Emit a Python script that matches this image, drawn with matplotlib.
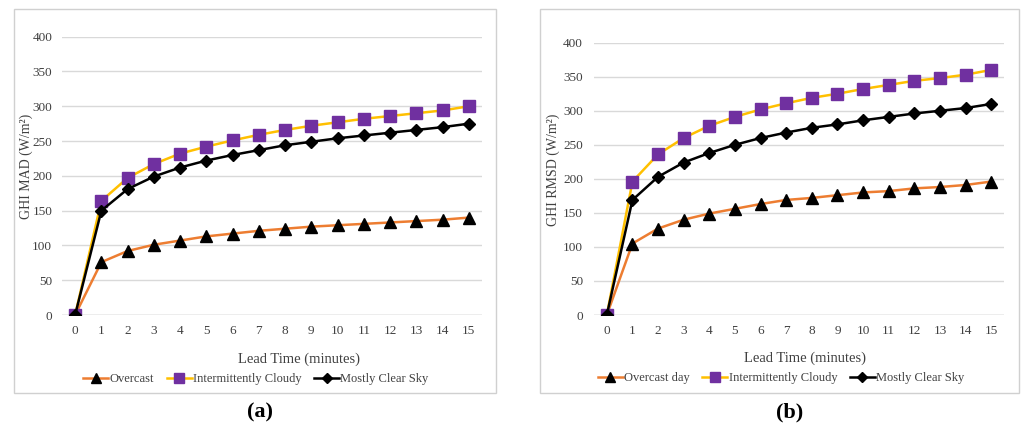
import matplotlib
matplotlib.use("Agg")
import matplotlib.pyplot as plt
from matplotlib.patches import Rectangle
from matplotlib.lines import Line2D

lead_time = list(range(16))
x_ticks = [str(v) for v in lead_time]
y_ticks = [0, 50, 100, 150, 200, 250, 300, 350, 400]

mad_overcast = [0, 76, 92, 101, 107, 113, 117, 121, 124, 127, 129, 131, 133, 135, 137, 140]
mad_intermittent = [0, 164, 197, 217, 232, 242, 251, 259, 266, 272, 277, 282, 286, 290, 294, 300]
mad_clear = [0, 150, 181, 199, 212, 222, 230, 237, 244, 249, 254, 258, 262, 266, 270, 275]

rmsd_overcast = [0, 105, 127, 140, 149, 156, 163, 169, 172, 176, 180, 182, 186, 188, 191, 196]
rmsd_intermittent = [0, 196, 236, 260, 278, 291, 302, 311, 319, 325, 332, 338, 344, 348, 353, 360]
rmsd_clear = [0, 169, 203, 224, 238, 250, 260, 268, 275, 280, 286, 291, 296, 300, 304, 310]

labels_a = ["Overcast", "Intermittently Cloudy", "Mostly Clear Sky"]
labels_b = ["Overcast day", "Intermittently Cloudy", "Mostly Clear Sky"]

SERIF = ["Liberation Serif", "DejaVu Serif"]
plt.rcParams["font.family"] = SERIF

W, H = 1024, 430
fig = plt.figure(figsize=(W / 100, H / 100), dpi=100)

ORANGE = "#ED7D31"
YELLOW = "#FFC000"
PURPLE = "#7030A0"
GRID = "#D9D9D9"


def fx(px):
    return px / W


def fy(py):
    return 1 - py / H


# frames
for (x0, y0, x1, y1) in [(14, 9, 496, 393), (540, 9, 1019, 393)]:
    fig.patches.append(Rectangle((fx(x0), fy(y1)), fx(x1) - fx(x0), fy(y0) - fy(y1),
                                 transform=fig.transFigure, fill=False,
                                 edgecolor="#D0D0D0", linewidth=1.0))


def panel(rect, over, inter, clear, ylabel, ylabel_px, ypad, labels, leg_center,
          xlabel_pos, letter, letter_x):
    x0, x1, ytop, ybot = rect
    ax = fig.add_axes([fx(x0), fy(ybot), fx(x1) - fx(x0), fy(ytop) - fy(ybot)])
    ax.set_xlim(-0.5, 15.5)
    ax.set_ylim(0, 400)
    for s in ax.spines.values():
        s.set_visible(False)
    ax.set_yticks(y_ticks)
    ax.set_xticks(lead_time)
    ax.set_xticklabels(x_ticks)
    ax.tick_params(length=0, labelsize=9.5, colors="#404040")
    ax.tick_params(axis="y", pad=ypad)
    ax.tick_params(axis="x", pad=7)
    ax.grid(axis="y", color=GRID, linewidth=1.0)
    ax.set_axisbelow(True)
    ax.axhline(0, color="#C8C8C8", linewidth=1.0, zorder=1)

    ax.plot(lead_time, over, color=ORANGE, linewidth=1.8, marker="^",
            markersize=8, markerfacecolor="black", markeredgecolor="black", zorder=3)
    ax.plot(lead_time, inter, color=YELLOW, linewidth=1.8, marker="s",
            markersize=8, markerfacecolor=PURPLE, markeredgecolor=PURPLE, zorder=4)
    ax.plot(lead_time, clear, color="black", linewidth=1.8, marker="D",
            markersize=6.5, markerfacecolor="black", markeredgecolor="black", zorder=5)
    ax.set_ylabel(ylabel, fontsize=10, color="#404040", va="center")
    lx, ly = ylabel_px
    ax.yaxis.set_label_coords((lx - x0) / (x1 - x0), (ybot - ly) / (ybot - ytop))

    h1 = Line2D([], [], color=ORANGE, linewidth=1.8, marker="^", markersize=7,
                markerfacecolor="black", markeredgecolor="black")
    h2 = Line2D([], [], color=YELLOW, linewidth=1.8, marker="s", markersize=7,
                markerfacecolor=PURPLE, markeredgecolor=PURPLE)
    h3 = Line2D([], [], color="black", linewidth=1.8, marker="D", markersize=5.5,
                markerfacecolor="black", markeredgecolor="black")
    fig.legend([h1, h2, h3], labels, loc="center",
               bbox_to_anchor=(fx(leg_center[0]), fy(leg_center[1])),
               ncol=3, frameon=False, fontsize=9, handlelength=2.0,
               handletextpad=0.1, columnspacing=1.0, labelcolor="#404040")
    fig.text(fx(xlabel_pos[0]), fy(xlabel_pos[1]), "Lead Time (minutes)", ha="center",
             va="center", fontsize=10.5, color="#404040")
    fig.text(fx(letter_x), fy(412), letter, ha="center", va="center",
             fontsize=16, fontweight="bold", color="black")
    return ax


panel((62, 482, 36.7, 315), mad_overcast, mad_intermittent, mad_clear,
      "GHI MAD (W/m²)", (26, 166), 7, labels_a, (256, 379), (299, 359), "(a)", 260)
panel((594, 1004, 42.7, 315), rmsd_overcast, rmsd_intermittent, rmsd_clear,
      "GHI RMSD (W/m²)", (553, 170), 8, labels_b, (781, 378), (805, 358), "(b)", 790)

fig.savefig("out.png", dpi=100)
